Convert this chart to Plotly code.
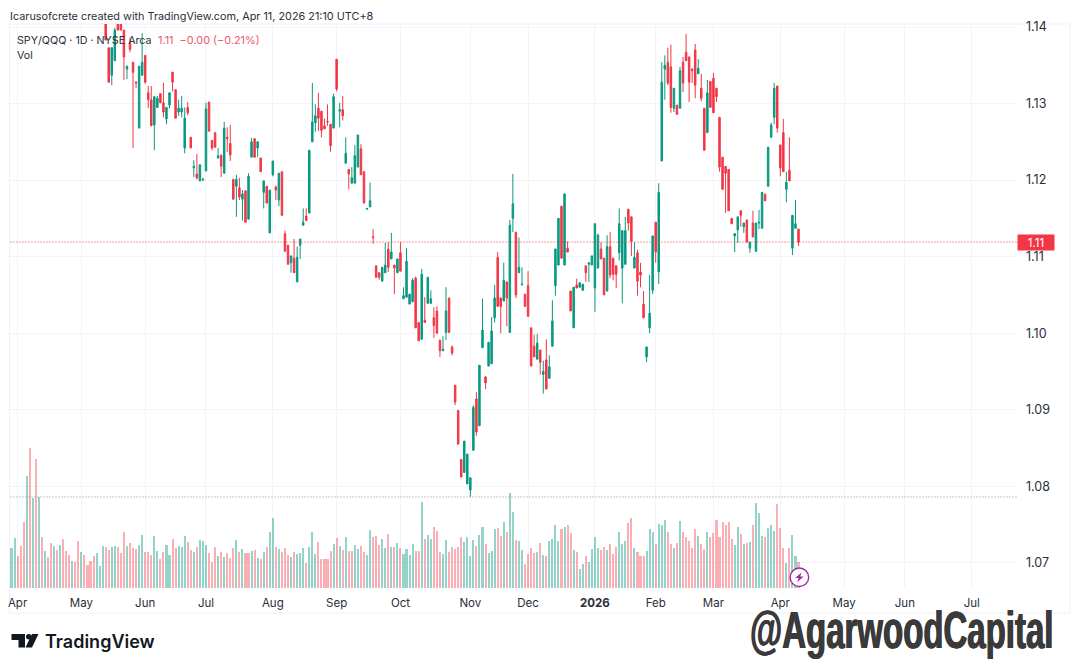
import plotly.graph_objects as go

# price candles, first 31 sessions sit above the visible window so they are left out
first_candle = 31
opens = [
    1.1416, 1.1373, 1.1337, 1.1356, 1.1408, 1.1408, 1.1396, 1.1345, 1.1379,
    1.1354, 1.1328, 1.1268, 1.1337, 1.1363, 1.1314, 1.1305, 1.1272, 1.1295, 1.1313,
    1.1301, 1.1280, 1.1298, 1.1341, 1.1318, 1.1289, 1.1289, 1.1242, 1.1295, 1.1256,
    1.1216, 1.1208, 1.1199, 1.1200, 1.1212, 1.1302, 1.1252, 1.1262, 1.1229, 1.1232,
    1.1209, 1.1256, 1.1248, 1.1201, 1.1192, 1.1190, 1.1175, 1.1186, 1.1149, 1.1230,
    1.1254, 1.1242, 1.1229, 1.1184, 1.1192, 1.1131, 1.1207, 1.1191, 1.1174, 1.1211,
    1.1130, 1.1115, 1.1092, 1.1098, 1.1067, 1.1115, 1.1141, 1.1153, 1.1157, 1.1250,
    1.1275, 1.1294, 1.1290, 1.1271, 1.1277, 1.1273, 1.1268, 1.1358, 1.1290, 1.1292,
    1.1222, 1.1214, 1.1196, 1.1196, 1.1217, 1.1241, 1.1211, 1.1162, 1.1165, 1.1126,
    1.1088, 1.1079, 1.1068, 1.1079, 1.1110, 1.1097, 1.1089, 1.1079, 1.1105, 1.1045,
    1.1047, 1.1038, 1.1041, 1.1072, 1.1014, 1.0992, 1.1017, 1.1039, 1.1039, 1.1020,
    1.1029, 1.0991, 1.0977, 1.1001, 1.1046, 1.0982, 1.0932, 1.0899, 1.0835, 1.0818,
    1.0803, 1.0795, 1.0847, 1.0914, 1.0879, 1.0981, 1.0943, 1.0957, 1.0960, 1.1020,
    1.1099, 1.1046, 1.1042, 1.1067, 1.1001, 1.1150, 1.1132, 1.1079, 1.1063, 1.1051,
    1.1062, 1.1007, 1.0983, 1.0966, 1.0978, 1.0946, 1.0965, 1.0941, 1.0983, 1.1062,
    1.1089, 1.1166, 1.1089, 1.1111, 1.1055, 1.1007, 1.1063, 1.1060, 1.1056, 1.1088,
    1.1090, 1.1089, 1.1059, 1.1085, 1.1110, 1.1098, 1.1055, 1.1113, 1.1098, 1.1088,
    1.1105, 1.1085, 1.1090, 1.1162, 1.1152, 1.1085, 1.1105, 1.1080, 1.1038, 1.0969,
    1.1007, 1.1056, 1.1145, 1.1080, 1.1225, 1.1345, 1.1354, 1.1348, 1.1294, 1.1298,
    1.1294, 1.1354, 1.1367, 1.1361, 1.1345, 1.1370, 1.1339, 1.1320, 1.1294, 1.1262,
    1.1329, 1.1333, 1.1320, 1.1282, 1.1230, 1.1218, 1.1214, 1.1150, 1.1127, 1.1135,
    1.1160, 1.1139, 1.1148, 1.1111, 1.1144, 1.1107, 1.1144, 1.1137, 1.1181, 1.1192,
    1.1256, 1.1282, 1.1323, 1.1246, 1.1262, 1.1188, 1.1213, 1.1111, 1.1137, 1.1136,
]
highs = [
    1.1420, 1.1373, 1.1373, 1.1399, 1.1410, 1.1410, 1.1396, 1.1349, 1.1386,
    1.1354, 1.1329, 1.1349, 1.1392, 1.1363, 1.1323, 1.1323, 1.1309, 1.1310, 1.1313,
    1.1327, 1.1295, 1.1314, 1.1341, 1.1318, 1.1305, 1.1310, 1.1295, 1.1302, 1.1256,
    1.1226, 1.1234, 1.1220, 1.1203, 1.1301, 1.1302, 1.1252, 1.1262, 1.1242, 1.1234,
    1.1276, 1.1269, 1.1272, 1.1201, 1.1207, 1.1203, 1.1187, 1.1186, 1.1209, 1.1255,
    1.1255, 1.1251, 1.1229, 1.1199, 1.1192, 1.1187, 1.1225, 1.1193, 1.1209, 1.1211,
    1.1134, 1.1115, 1.1101, 1.1123, 1.1113, 1.1123, 1.1163, 1.1163, 1.1239, 1.1327,
    1.1299, 1.1314, 1.1290, 1.1280, 1.1299, 1.1273, 1.1313, 1.1358, 1.1301, 1.1310,
    1.1256, 1.1214, 1.1217, 1.1246, 1.1259, 1.1247, 1.1211, 1.1163, 1.1197, 1.1136,
    1.1088, 1.1079, 1.1086, 1.1118, 1.1119, 1.1131, 1.1089, 1.1097, 1.1119, 1.1060,
    1.1111, 1.1051, 1.1072, 1.1074, 1.1014, 1.1084, 1.1047, 1.1073, 1.1056, 1.1034,
    1.1035, 1.0991, 1.0996, 1.1060, 1.1046, 1.0984, 1.0932, 1.0899, 1.0835, 1.0859,
    1.0842, 1.0811, 1.0906, 1.0923, 1.0958, 1.1045, 1.0943, 1.0988, 1.1021, 1.1063,
    1.1106, 1.1046, 1.1092, 1.1067, 1.1148, 1.1208, 1.1132, 1.1125, 1.1086, 1.1051,
    1.1081, 1.1007, 1.0998, 1.0999, 1.0978, 1.0964, 1.0992, 1.0971, 1.1043, 1.1110,
    1.1150, 1.1166, 1.1182, 1.1120, 1.1055, 1.1060, 1.1071, 1.1066, 1.1064, 1.1088,
    1.1092, 1.1101, 1.1143, 1.1130, 1.1119, 1.1098, 1.1128, 1.1132, 1.1098, 1.1088,
    1.1163, 1.1134, 1.1152, 1.1162, 1.1152, 1.1119, 1.1109, 1.1092, 1.1055, 1.0982,
    1.1076, 1.1127, 1.1145, 1.1196, 1.1354, 1.1363, 1.1373, 1.1377, 1.1320, 1.1298,
    1.1348, 1.1361, 1.1391, 1.1361, 1.1346, 1.1378, 1.1358, 1.1339, 1.1294, 1.1331,
    1.1329, 1.1340, 1.1320, 1.1282, 1.1230, 1.1218, 1.1214, 1.1150, 1.1130, 1.1152,
    1.1160, 1.1144, 1.1148, 1.1119, 1.1160, 1.1144, 1.1161, 1.1184, 1.1183, 1.1243,
    1.1275, 1.1327, 1.1323, 1.1246, 1.1280, 1.1211, 1.1256, 1.1154, 1.1174, 1.1136,
]
lows = [
    1.1383, 1.1328, 1.1324, 1.1356, 1.1396, 1.1396, 1.1331, 1.1332, 1.1367,
    1.1242, 1.1320, 1.1268, 1.1337, 1.1326, 1.1294, 1.1271, 1.1239, 1.1295, 1.1301,
    1.1282, 1.1273, 1.1294, 1.1316, 1.1281, 1.1284, 1.1282, 1.1235, 1.1285, 1.1242,
    1.1204, 1.1201, 1.1199, 1.1199, 1.1212, 1.1264, 1.1239, 1.1243, 1.1228, 1.1204,
    1.1209, 1.1237, 1.1225, 1.1175, 1.1152, 1.1174, 1.1147, 1.1145, 1.1149, 1.1230,
    1.1230, 1.1230, 1.1211, 1.1163, 1.1170, 1.1131, 1.1205, 1.1174, 1.1166, 1.1154,
    1.1107, 1.1090, 1.1079, 1.1079, 1.1067, 1.1097, 1.1141, 1.1147, 1.1157, 1.1250,
    1.1263, 1.1264, 1.1256, 1.1267, 1.1271, 1.1237, 1.1268, 1.1316, 1.1269, 1.1278,
    1.1222, 1.1188, 1.1196, 1.1196, 1.1217, 1.1207, 1.1170, 1.1162, 1.1165, 1.1117,
    1.1073, 1.1070, 1.1068, 1.1079, 1.1080, 1.1097, 1.1051, 1.1079, 1.1081, 1.1045,
    1.1047, 1.1038, 1.1041, 1.1007, 1.0990, 1.0992, 1.1014, 1.1039, 1.1039, 1.0994,
    1.1000, 1.0969, 1.0977, 1.0991, 1.1001, 1.0971, 1.0906, 1.0855, 1.0812, 1.0818,
    1.0803, 1.0786, 1.0847, 1.0866, 1.0879, 1.0981, 1.0927, 1.0957, 1.0960, 1.1014,
    1.1035, 1.1000, 1.1042, 1.1009, 1.1001, 1.1132, 1.1046, 1.1079, 1.1063, 1.1035,
    1.1022, 1.0957, 1.0969, 1.0966, 1.0946, 1.0921, 1.0927, 1.0941, 1.0983, 1.1049,
    1.1089, 1.1098, 1.1089, 1.1106, 1.1029, 1.1007, 1.1059, 1.1060, 1.1056, 1.1067,
    1.1067, 1.1089, 1.1028, 1.1085, 1.1097, 1.1050, 1.1055, 1.1072, 1.1069, 1.1059,
    1.1095, 1.1039, 1.1090, 1.1134, 1.1101, 1.1085, 1.1049, 1.1060, 1.1020, 1.0962,
    1.1000, 1.1051, 1.1092, 1.1064, 1.1225, 1.1305, 1.1324, 1.1288, 1.1289, 1.1286,
    1.1294, 1.1315, 1.1356, 1.1302, 1.1327, 1.1307, 1.1339, 1.1303, 1.1239, 1.1262,
    1.1295, 1.1288, 1.1302, 1.1211, 1.1188, 1.1157, 1.1160, 1.1143, 1.1106, 1.1118,
    1.1139, 1.1131, 1.1119, 1.1105, 1.1125, 1.1107, 1.1136, 1.1137, 1.1173, 1.1192,
    1.1256, 1.1273, 1.1262, 1.1205, 1.1211, 1.1171, 1.1199, 1.1102, 1.1137, 1.1114,
]
closes = [
    1.1383, 1.1328, 1.1373, 1.1396, 1.1396, 1.1396, 1.1361, 1.1349, 1.1371,
    1.1341, 1.1327, 1.1349, 1.1354, 1.1328, 1.1305, 1.1271, 1.1309, 1.1307, 1.1301,
    1.1289, 1.1295, 1.1314, 1.1328, 1.1281, 1.1294, 1.1294, 1.1281, 1.1288, 1.1242,
    1.1218, 1.1203, 1.1220, 1.1201, 1.1293, 1.1264, 1.1242, 1.1243, 1.1232, 1.1218,
    1.1268, 1.1254, 1.1233, 1.1175, 1.1201, 1.1178, 1.1182, 1.1145, 1.1205, 1.1250,
    1.1230, 1.1250, 1.1211, 1.1199, 1.1170, 1.1187, 1.1225, 1.1187, 1.1209, 1.1154,
    1.1107, 1.1090, 1.1101, 1.1079, 1.1099, 1.1123, 1.1145, 1.1147, 1.1239, 1.1276,
    1.1284, 1.1281, 1.1265, 1.1267, 1.1276, 1.1245, 1.1309, 1.1319, 1.1292, 1.1284,
    1.1235, 1.1208, 1.1203, 1.1232, 1.1259, 1.1207, 1.1170, 1.1163, 1.1173, 1.1125,
    1.1073, 1.1073, 1.1086, 1.1089, 1.1086, 1.1106, 1.1085, 1.1097, 1.1081, 1.1049,
    1.1094, 1.1051, 1.1069, 1.1007, 1.0990, 1.1077, 1.1014, 1.1073, 1.1045, 1.1010,
    1.1000, 1.0977, 1.0979, 1.1029, 1.1001, 1.0974, 1.0910, 1.0855, 1.0812, 1.0859,
    1.0842, 1.0811, 1.0903, 1.0871, 1.0958, 1.1004, 1.0935, 1.0988, 1.1003, 1.1046,
    1.1035, 1.1035, 1.1069, 1.1046, 1.1141, 1.1169, 1.1050, 1.1086, 1.1064, 1.1035,
    1.1022, 1.0957, 1.0969, 1.0987, 1.0962, 1.0950, 1.0927, 1.0956, 1.1016, 1.1110,
    1.1150, 1.1098, 1.1182, 1.1106, 1.1029, 1.1060, 1.1059, 1.1066, 1.1064, 1.1079,
    1.1092, 1.1101, 1.1143, 1.1128, 1.1097, 1.1050, 1.1113, 1.1076, 1.1077, 1.1077,
    1.1143, 1.1134, 1.1134, 1.1144, 1.1120, 1.1099, 1.1068, 1.1076, 1.1020, 1.0982,
    1.1026, 1.1127, 1.1106, 1.1184, 1.1328, 1.1350, 1.1327, 1.1295, 1.1320, 1.1286,
    1.1343, 1.1327, 1.1356, 1.1328, 1.1343, 1.1324, 1.1346, 1.1307, 1.1239, 1.1314,
    1.1295, 1.1288, 1.1309, 1.1217, 1.1188, 1.1209, 1.1160, 1.1143, 1.1130, 1.1152,
    1.1154, 1.1144, 1.1119, 1.1119, 1.1126, 1.1144, 1.1145, 1.1184, 1.1173, 1.1243,
    1.1272, 1.1320, 1.1268, 1.1216, 1.1211, 1.1197, 1.1199, 1.1154, 1.1143, 1.1119,
]

# volume in relative units, u = teal, d = red
volumes = [
    119, 149, 96, 127, 197, 337, 419, 269, 387, 274,
    152, 112, 94, 134, 126, 114, 129, 147, 111, 99,
    81, 78, 141, 107, 100, 68, 81, 95, 105, 66,
    125, 122, 114, 122, 126, 122, 105, 168, 127, 135,
    121, 116, 130, 159, 108, 108, 100, 156, 110, 87,
    109, 129, 99, 147, 119, 126, 123, 156, 139, 114,
    108, 123, 144, 140, 128, 105, 78, 122, 96, 109,
    94, 105, 90, 120, 143, 109, 117, 105, 104, 111,
    115, 89, 87, 108, 124, 169, 211, 122, 118, 107,
    120, 99, 92, 108, 101, 105, 120, 76, 124, 167,
    102, 137, 87, 87, 87, 110, 132, 149, 126, 114,
    154, 111, 111, 129, 116, 126, 109, 99, 174, 154,
    156, 128, 147, 119, 162, 122, 123, 135, 119, 102,
    117, 98, 131, 112, 112, 258, 147, 159, 146, 183,
    171, 107, 102, 144, 109, 123, 118, 124, 154, 139,
    154, 95, 144, 125, 159, 184, 132, 104, 111, 176,
    179, 157, 199, 169, 284, 228, 143, 140, 115, 73,
    103, 119, 105, 109, 134, 100, 96, 141, 146, 189,
    142, 178, 183, 189, 165, 114, 107, 58, 72, 96,
    78, 116, 153, 119, 114, 122, 115, 132, 103, 123,
    169, 133, 142, 195, 210, 120, 108, 97, 95, 112,
    178, 169, 131, 191, 188, 204, 169, 133, 121, 136,
    201, 167, 152, 140, 120, 176, 156, 132, 118, 168,
    153, 165, 203, 152, 198, 188, 198, 146, 130, 182,
    162, 132, 135, 139, 188, 256, 226, 156, 153, 179,
    188, 172, 251, 179, 120, 75, 120, 159, 96, 78,
]
vol_dir = (
    "uudddududu" "duddududdd" "uddudddduu" "udduudddud" "dduuddduud"
    "duudduuudd" "uduuudddud" "udddududdu" "dududuudud" "dduduuuduu"
    "udddddudud" "udduudduud" "dduudududu" "uuudduduud" "dduudddddu"
    "uuuduuduuu" "dduduuduud" "dddududuuu" "ududduduud" "uuuudduddd"
    "uuuddudddu" "uuduuuddud" "uddddduddu" "dddddddduu" "dududuuudu"
    "uuddduduud"
)

month_pos = [2, 23, 44, 64, 86, 107, 128, 151, 170, 192, 212, 231, 253, 274, 294, 316]
month_labels = ["Apr", "May", "Jun", "Jul", "Aug", "Sep", "Oct", "Nov", "Dec", "<b>2026</b>",
                "Feb", "Mar", "Apr", "May", "Jun", "Jul"]
price_ticks = [1.07, 1.08, 1.09, 1.10, 1.11, 1.12, 1.13, 1.14]
last_price = 1.1119
low_line = 1.0786

GREEN = "#089981"
RED = "#f23645"
GRID = "#f3f4f7"
INK = "#131722"
W, H = 1080, 668
L, R, T, B = 7.5, 63, 24, 80


# pixel helpers for the page furniture (logo, frame, text)
def px(x):
    return (x - L) / (W - L - R)


def py(y):
    return 1 - (y - T) / (H - T - B)


def poly(points):
    return "M" + " L".join(f"{px(a):.5f},{py(b):.5f}" for a, b in points) + " Z"


candle_x = list(range(first_candle, first_candle + len(opens)))
vol_x = list(range(len(volumes)))
vol_colors = ["rgba(8,153,129,0.43)" if d == "u" else "rgba(242,54,69,0.40)" for d in vol_dir]

fig = go.Figure()
fig.add_trace(go.Bar(x=vol_x, y=volumes, marker=dict(color=vol_colors, line=dict(width=0)),
                     width=0.68, yaxis="y2", hoverinfo="skip", showlegend=False))
fig.add_trace(go.Candlestick(x=candle_x, open=opens, high=highs, low=lows, close=closes,
                             increasing=dict(line=dict(color=GREEN, width=1), fillcolor=GREEN),
                             decreasing=dict(line=dict(color=RED, width=1), fillcolor=RED),
                             whiskerwidth=0, showlegend=False))

shapes = [
    dict(type="rect", xref="paper", yref="paper", x0=px(9), x1=px(1070), y0=py(613), y1=py(24),
         line=dict(color="#f0f1f4", width=1), layer="below"),
    dict(type="line", xref="paper", yref="y", x0=px(10), x1=1, y0=last_price, y1=last_price,
         line=dict(color=RED, width=1, dash="1px,2px")),
    dict(type="line", xref="paper", yref="y", x0=px(10), x1=1, y0=low_line, y1=low_line,
         line=dict(color="#8f929b", width=1, dash="1px,2px")),
    # TradingView mark
    dict(type="path", xref="paper", yref="paper", fillcolor="#131722", line=dict(width=0),
         path=poly([(11, 634), (24.5, 634), (24.5, 647.5), (18, 647.5), (18, 640), (11, 640)])),
    dict(type="circle", xref="paper", yref="paper", x0=px(25.5), x1=px(31), y0=py(639.5), y1=py(634),
         fillcolor="#131722", line=dict(width=0)),
    dict(type="path", xref="paper", yref="paper", fillcolor="#131722", line=dict(width=0),
         path=poly([(31.5, 634), (38, 634), (31.5, 647.5), (25, 647.5)])),
    # lightning badge
    dict(type="circle", xref="paper", yref="paper", x0=px(790), x1=px(808.6), y0=py(586.5), y1=py(568),
         fillcolor="white", line=dict(color="#9c27b0", width=1.4)),
    dict(type="path", xref="paper", yref="paper", fillcolor="#9c27b0", line=dict(width=0),
         path=poly([(801.5, 572.5), (795, 578), (798.6, 578), (797, 582.3), (803.6, 576.4), (800, 576.4)])),
]


def note(text, x, y, size, color=INK, anchor="left", **kw):
    return dict(text=text, xref="paper", yref="paper", x=px(x - 1), y=py(y), xanchor=anchor, yanchor="middle",
                showarrow=False, font=dict(family="Inter", size=size, color=color), **kw)


annotations = [
    note("Icarusofcrete created with TradingView.com, Apr 11, 2026 21:10 UTC+8", 9, 16, 10.85, color="#2a2e39"),
    note("SPY/QQQ · 1D · NYSE Arca", 16, 40, 10.7, color="#2a2e39"),
    note("1.11  −0.00 (−0.21%)", 157, 40, 10.9, color="#ee5a68"),
    note("Vol", 16, 55, 10.7, color="#2a2e39"),
    dict(text="1.11", xref="paper", yref="y", x=1.0, y=last_price, xanchor="left", yanchor="middle",
         showarrow=False, width=36, height=15, bgcolor=RED, borderpad=0,
         font=dict(family="Inter", size=11.5, color="white")),
    dict(text="TradingView", xref="paper", yref="paper", x=px(42.5), y=py(641), xanchor="left", yanchor="middle",
         showarrow=False, font=dict(family="Inter", size=18, color="#131722", weight=600)),
    dict(text="@AgarwoodCapital", xref="paper", yref="paper", x=px(748), y=py(636), xanchor="left",
         yanchor="middle", showarrow=False,
         font=dict(family="Liberation Sans", size=33, color="#3a3a3a", weight=700,
                   shadow="0.6px 0 0 #3a3a3a, -0.6px 0 0 #3a3a3a")),
]

fig.update_layout(
    width=W, height=H, margin=dict(l=L, r=R, t=T, b=B), paper_bgcolor="white", plot_bgcolor="white",
    boxgap=0.3, bargap=0, showlegend=False, shapes=shapes, annotations=annotations,
    font=dict(family="Inter", size=11, color=INK),
    xaxis=dict(range=[-1.15, 330.9], tickmode="array", tickvals=month_pos, ticktext=month_labels,
               rangeslider=dict(visible=False), showgrid=True, gridcolor=GRID, gridwidth=1, zeroline=False,
               showline=False, ticks="", ticklabelstandoff=6, tickfont=dict(family="Inter", size=11.5, color="#2a2e39")),
    yaxis=dict(range=[1.0667, 1.1404], side="right", tickmode="array", tickvals=price_ticks,
               tickformat=".2f", showgrid=True, gridcolor=GRID, gridwidth=1, zeroline=False,
               showline=False, ticks="", ticklabelstandoff=8, tickfont=dict(family="Inter", size=12.5, color="#2a2e39")),
    yaxis2=dict(range=[0, 1692], overlaying="y", visible=False),
)

# page has no margin; stretch the watermark text tall like the condensed face in the original
post = """
document.body.style.margin = '0';
setTimeout(function () {
  var t = Array.from(document.querySelectorAll('.annotation-text')).find(function (e) {
    return e.textContent.charAt(0) === '@';
  });
  if (t) {
    var b = t.getBBox();
    var base = b.y + b.height * 0.8;
    t.setAttribute('transform', 'translate(0 ' + base + ') scale(1 1.57) translate(0 ' + (-base) + ')');
  }
}, 50);
"""
fig.write_html("out.html", post_script=post, config=dict(displayModeBar=False))
